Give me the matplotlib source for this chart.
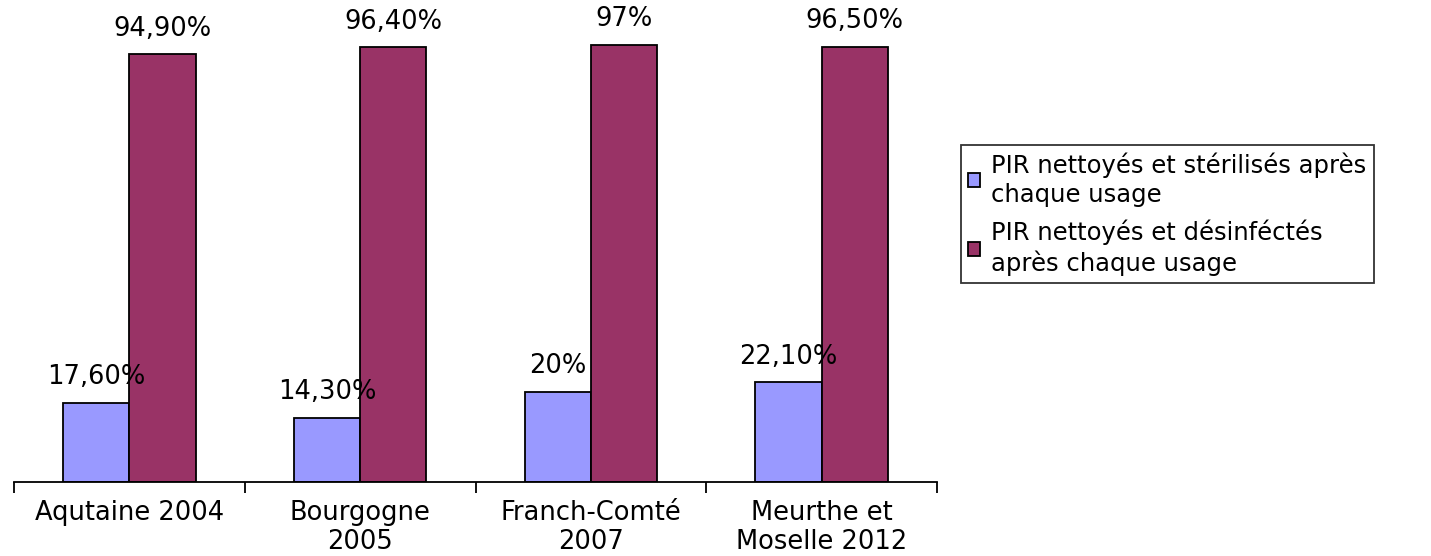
import matplotlib.pyplot as plt
import numpy as np

plt.rcParams['font.family'] = ['DejaVu Sans']

regions = ['Aqutaine 2004', 'Bourgogne\n2005', 'Franch-Comté\n2007', 'Meurthe et\nMoselle 2012']
sterilises = [17.6, 14.3, 20.0, 22.1]
desinfectes = [94.9, 96.4, 97.0, 96.5]
lbl_sterilises = ['17,60%', '14,30%', '20%', '22,10%']
lbl_desinfectes = ['94,90%', '96,40%', '97%', '96,50%']
series_names = ['PIR nettoyés et stérilisés après\nchaque usage',
                'PIR nettoyés et désinféctés\naprès chaque usage']

W, H = 1431, 556
FS = 18.5
fig = plt.figure(figsize=(W / 100, H / 100), dpi=100)
ax = fig.add_axes([14 / W, (H - 482) / H, (937 - 14) / W, 482 / H])

x = np.arange(len(regions))
w = 0.287
b1 = ax.bar(x - w / 2, sterilises, w, color='#9999FF', edgecolor='black', linewidth=1.3,
            label=series_names[0])
b2 = ax.bar(x + w / 2, desinfectes, w, color='#993366', edgecolor='black', linewidth=1.3,
            label=series_names[1])

for rect, t in zip(b1, lbl_sterilises):
    ax.annotate(t, (rect.get_x() + rect.get_width() / 2, rect.get_height()),
                xytext=(0, 9), textcoords='offset points', ha='center', va='bottom', fontsize=FS)
for rect, t in zip(b2, lbl_desinfectes):
    ax.annotate(t, (rect.get_x() + rect.get_width() / 2, rect.get_height()),
                xytext=(0, 9), textcoords='offset points', ha='center', va='bottom', fontsize=FS)

ax.set_xlim(-0.5, len(regions) - 0.5)
ax.set_ylim(0, 482 / 4.51)

for s in ['left', 'right', 'top']:
    ax.spines[s].set_visible(False)
ax.spines['bottom'].set_linewidth(1.3)
ax.set_yticks([])

ax.set_xticks(np.arange(len(regions) + 1) - 0.5)
ax.set_xticklabels([])
ax.tick_params(axis='x', which='major', direction='out', length=8, width=1.3)
ax.set_xticks(x, minor=True)
ax.set_xticklabels(regions, minor=True, fontsize=FS, linespacing=1.15)
ax.tick_params(axis='x', which='minor', length=0, pad=13)

leg = fig.legend(handles=[b1, b2], loc='upper left', bbox_to_anchor=(961 / W, 1 - 145 / H),
                 fontsize=17.5, frameon=True, fancybox=False, edgecolor='black',
                 handlelength=0.5, handleheight=0.5, handletextpad=0.45,
                 borderpad=0.3, borderaxespad=0, labelspacing=0.55)
leg.get_frame().set_linewidth(1.3)
for t in leg.get_texts():
    t.set_linespacing(1.25)

fig.savefig('out.png', dpi=100)
